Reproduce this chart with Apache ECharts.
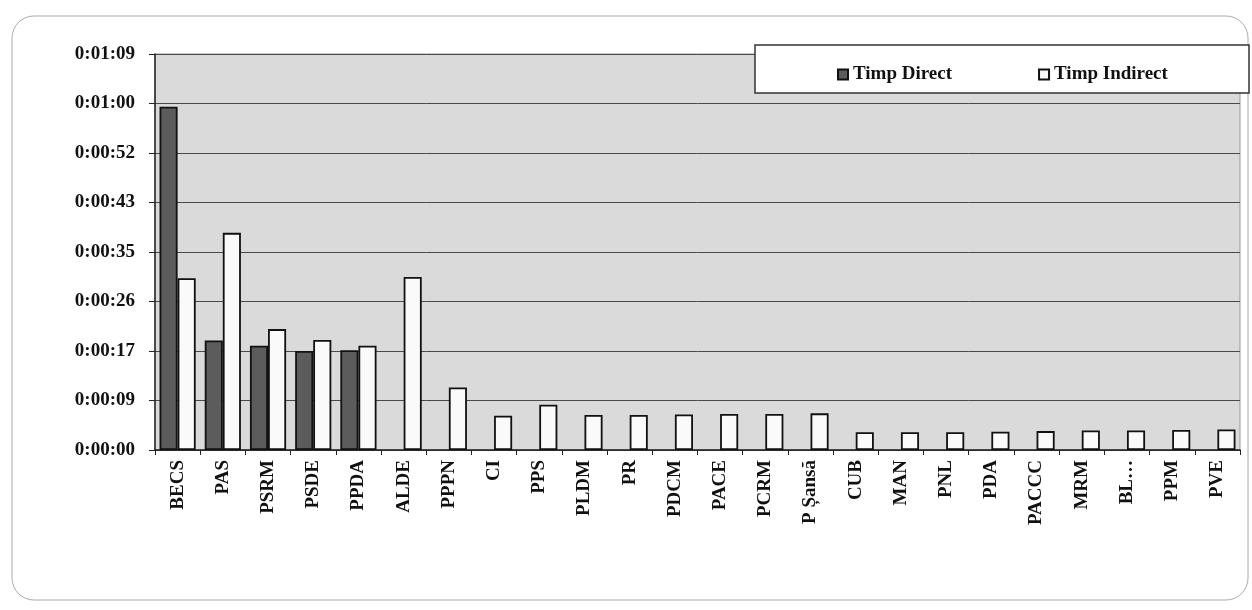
<!DOCTYPE html>
<html><head><meta charset="utf-8">
<script src="https://cdn.jsdelivr.net/npm/echarts@6/dist/echarts.min.js"></script>
<style>html,body{margin:0;padding:0;background:#fff}#c{width:1252px;height:610px}</style>
</head><body><div id="c"></div>
<script>
const categories = ['BECS','PAS','PSRM','PSDE','PPDA','ALDE','PPPN','CI','PPS','PLDM','PR','PDCM','PACE','PCRM','P Șansă','CUB','MAN','PNL','PDA','PACCC','MRM','BL…','PPM','PVE'];
// seconds
const timpDirect = [59.9,19.1,18.2,17.3,17.4,null,null,null,null,null,null,null,null,null,null,null,null,null,null,null,null,null,null,null];
const timpIndirect = [30.0,37.9,21.1,19.2,18.2,30.2,10.9,6.0,7.9,6.1,6.1,6.2,6.3,6.3,6.4,3.1,3.1,3.1,3.2,3.3,3.4,3.4,3.5,3.6];
const seriesNames = ['Timp Direct','Timp Indirect'];

function fmt(v){
  const s = Math.round(v);
  const h = Math.floor(s/3600), m = Math.floor((s%3600)/60), sec = s%60;
  return h + ':' + String(m).padStart(2,'0') + ':' + String(sec).padStart(2,'0');
}
const font = 'Liberation Serif';
const chart = echarts.init(document.getElementById('c'));
chart.setOption({
  animation:false,
  backgroundColor:'#fff',
  graphic:[
    {type:'rect', shape:{x:12,y:16,width:1236,height:584,r:22}, style:{fill:'none',stroke:'#aaa',lineWidth:1}, z:-10},
    {type:'rect', shape:{x:755,y:45,width:494,height:48}, style:{fill:'#fff',stroke:'#333',lineWidth:1.5}, z:50}
  ],
  legend:{
    data:seriesNames, left:832, top:60, itemWidth:10, itemHeight:10, itemGap:86, z:60,
    icon:'rect',
    textStyle:{fontFamily:font,fontWeight:'bold',fontSize:19,color:'#111'}
  },
  grid:{left:155,right:12,top:54,bottom:160,show:true,backgroundColor:'#dadada',borderColor:'#999',borderWidth:1},
  xAxis:{
    type:'category', data:categories,
    axisLine:{lineStyle:{color:'#222',width:1.5}},
    axisTick:{show:true,length:5,lineStyle:{color:'#222'}},
    axisLabel:{rotate:90,fontFamily:font,fontWeight:'bold',fontSize:19,color:'#111',margin:10,interval:0}
  },
  yAxis:{
    type:'value', min:0, max:69.12, interval:8.64,
    axisLine:{show:true,lineStyle:{color:'#222',width:1.5}},
    axisTick:{show:true,length:6,lineStyle:{color:'#222'}},
    splitLine:{lineStyle:{color:'#4a4a4a',width:1}},
    axisLabel:{formatter:fmt,fontFamily:font,fontWeight:'bold',fontSize:19,color:'#111',margin:20}
  },
  series:[
    {name:seriesNames[0],type:'bar',data:timpDirect,barGap:'0%',barCategoryGap:'20%',
     itemStyle:{color:'#5c5c5c',borderColor:'#111',borderWidth:1.8}},
    {name:seriesNames[1],type:'bar',data:timpIndirect,barGap:'0%',barCategoryGap:'20%',
     itemStyle:{color:'#fafafa',borderColor:'#111',borderWidth:1.8}}
  ]
});
</script></body></html>
